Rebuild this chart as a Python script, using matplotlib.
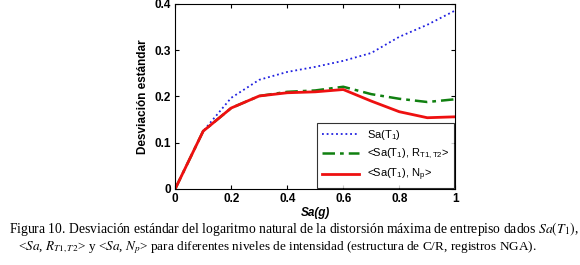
import matplotlib

matplotlib.use("Agg")
import matplotlib.pyplot as plt

plt.rcParams["font.family"] = ["Liberation Sans", "DejaVu Sans"]
plt.rcParams["mathtext.fontset"] = "custom"
plt.rcParams["mathtext.rm"] = "Liberation Sans"
plt.rcParams["mathtext.it"] = "Liberation Sans:italic"

sa_g = [0.0, 0.1, 0.2, 0.3, 0.4, 0.5, 0.6, 0.7, 0.8, 0.9, 1.0]
std_sa = [0.0, 0.125, 0.197, 0.236, 0.253, 0.264, 0.277, 0.294, 0.329, 0.355, 0.386]
std_sa_r = [0.0, 0.125, 0.175, 0.201, 0.210, 0.213, 0.221, 0.205, 0.195, 0.188, 0.194]
std_sa_np = [0.0, 0.125, 0.175, 0.201, 0.208, 0.210, 0.215, 0.190, 0.167, 0.154, 0.156]

labels = [
    r"Sa(T$_\mathrm{1}$)",
    r"<Sa(T$_\mathrm{1}$), R$_\mathrm{T1,T2}$>",
    r"<Sa(T$_\mathrm{1}$), N$_\mathrm{p}$>",
]

fig = plt.figure(figsize=(5.8, 2.65), dpi=100)
ax = fig.add_axes([0.302, 0.287, 0.483, 0.698])

ax.plot(sa_g, std_sa, color="#2020e0", linestyle=(0, (1, 1.6)), linewidth=1.3, label=labels[0])
ax.plot(sa_g, std_sa_r, color="#108010", linestyle=(0, (5, 2, 1.5, 2)), linewidth=1.8, label=labels[1])
ax.plot(sa_g, std_sa_np, color="#ee1010", linestyle="-", linewidth=2.0, label=labels[2])

ax.set_xlim(0, 1)
ax.set_ylim(0, 0.4)
ax.set_xticks([0, 0.2, 0.4, 0.6, 0.8, 1])
ax.set_xticklabels(["0", "0.2", "0.4", "0.6", "0.8", "1"])
ax.set_yticks([0, 0.1, 0.2, 0.3, 0.4])
ax.set_yticklabels(["0", "0.1", "0.2", "0.3", "0.4"])
ax.tick_params(direction="in", top=True, right=True, labelsize=8.5, length=3, pad=3)
for lab in ax.get_xticklabels() + ax.get_yticklabels():
    lab.set_fontweight("bold")
ax.set_ylabel("Desviación estándar", fontsize=8.5, fontweight="bold", labelpad=4)
ax.set_xlabel("Sa(g)", fontsize=8.5, fontweight="bold", fontstyle="italic", labelpad=1)

leg = ax.legend(loc="lower right", fontsize=8, frameon=True, fancybox=False,
                edgecolor="black", borderaxespad=0.1, handlelength=3.3,
                labelspacing=0.5, borderpad=0.4)
leg.get_frame().set_linewidth(0.8)

cap_kw = dict(ha="center", va="center", family="Liberation Serif", math_fontfamily="stix")
fig.text(294 / 580, 0.136,
         r"Figura 10. Desviación estándar del logaritmo natural de la distorsión máxima de entrepiso dados $\mathit{Sa(T_{\mathit{1}})}$,",
         fontsize=9.8, **cap_kw)
fig.text(277 / 580, 0.064,
         r"<$\mathit{Sa}$, $\mathit{R_{T1,T2}}$> y <$\mathit{Sa}$, $\mathit{N_{p}}$> para diferentes niveles de intensidad (estructura de C/R, registros NGA).",
         fontsize=9.5, **cap_kw)

fig.savefig("out.png", dpi=100)
